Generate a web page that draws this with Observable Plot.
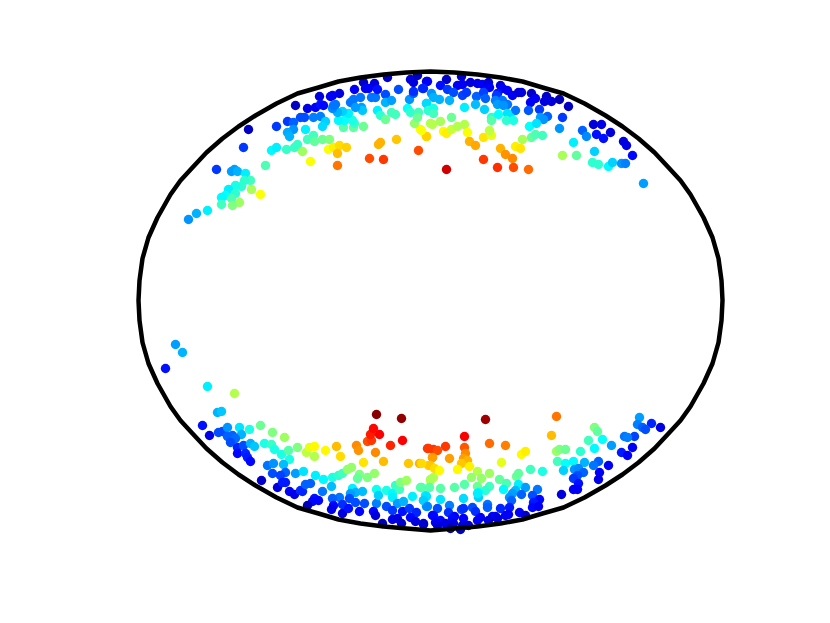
<!DOCTYPE html>
<html><head><meta charset="utf-8">
<script src="https://cdn.jsdelivr.net/npm/d3@7"></script>
<script src="https://cdn.jsdelivr.net/npm/@observablehq/plot@0.6"></script>
<style>html,body{margin:0;padding:0;background:#fff;overflow:hidden}svg{display:block}</style>
</head><body><div id="chart"></div>
<script>
const outlineX=[138,139,142,148,157,170,180,192,206,222,238,255,276,297,318,338,360,383,406,430,454,477,500,522,542,563,584,605,622,638,654,668,680,690,703,712,718,721,722,721,718,712,703,690,680,668,654,638,622,605,584,563,542,522,500,477,454,430,406,383,360,338,318,297,276,255,238,222,206,192,180,170,157,148,142,139,138];
const outlineY=[300,280,258,237,217,194,180,167,152,138,126,115,103,93,87,81,77,74,72,71,72,74,77,81,87,93,103,115,126,138,152,167,180,194,217,237,258,280,300,320,342,363,383,406,420,433,448,462,474,485,497,507,513,519,523,526,528,530,528,526,523,519,513,507,497,485,474,462,448,433,420,406,383,363,342,320,300];
const jetStops=[0,0.11,0.125,0.375,0.625,0.875,1];
const jetColors=["#00007f","#0000e6","#0000ff","#00ffff","#ffff00","#ff0000","#7f0000"];
const northWest=[[248,129,.07],[243,147,.18],[216,169,.18],[231,171,.28],[234,169,.28],[237,171,.3],[245,173,.36],[250,180,.44],[244,180,.42],[241,186,.42],[235,185,.4],[228,189,.36],[251,189,.54],[260,194,.62],[235,193,.42],[225,195,.38],[221,197,.37],[231,198,.45],[221,204,.44],[239,202,.53],[232,205,.5],[207,210,.36],[196,213,.3],[188,219,.27],[265,165,.45],[271,150,.37],[276,147,.36],[286,149,.43],[294,147,.43],[297,144,.43],[302,151,.53],[310,161,.62],[307,139,.44],[313,135,.44],[314,141,.47],[322,139,.48],[329,139,.5],[328,149,.62],[333,147,.64],[339,145,.66],[346,147,.67],[337,153,.69],[337,165,.76],[369,158,.8],[383,159,.82],[378,144,.7],[380,142,.7],[396,139,.68],[418,150,.8],[426,136,.66],[420,129,.62],[414,123,.52],[430,123,.55],[363,126,.48],[353,127,.47],[343,127,.46],[354,123,.43],[352,120,.4],[344,120,.38],[338,120,.37],[348,113,.36],[342,111,.33],[337,112,.3],[332,108,.26],[335,104,.24],[353,99,.24],[360,97,.24],[350,102,.24],[361,107,.28],[362,110,.32],[355,107,.28],[371,97,.24],[375,97,.24],[385,94,.2],[398,89,.2],[385,102,.3],[391,100,.28],[377,110,.36],[380,115,.42],[385,119,.48],[391,112,.44],[395,114,.44],[407,108,.38],[410,112,.42],[418,112,.44],[417,117,.48],[409,99,.27],[413,93,.22],[413,91,.17],[422,88,.18],[426,103,.33],[428,110,.4],[354,89,.12],[363,82,.07],[374,83,.1],[365,88,.12],[368,88,.12],[377,89,.14],[387,77,.08],[410,79,.1],[413,82,.1],[417,75,.07],[426,81,.1],[339,93,.1],[332,95,.12],[330,96,.12],[319,96,.1],[295,105,.07],[307,108,.11],[315,107,.12],[320,104,.14],[323,105,.13],[300,117,.2],[304,117,.2],[313,117,.25],[320,116,.25],[325,121,.33],[322,126,.34],[305,129,.36],[287,121,.18],[293,122,.22],[276,126,.18],[293,129,.27],[287,132,.29],[289,136,.3],[333,105,.24]];
const northEast=[[446,79,.08],[427,81,.12],[440,85,.14],[447,89,.18],[423,88,.16],[461,76,.08],[457,85,.12],[462,84,.12],[470,82,.1],[477,83,.11],[482,84,.12],[488,82,.1],[489,87,.12],[500,85,.1],[502,88,.12],[507,90,.12],[497,93,.15],[512,95,.12],[518,92,.1],[521,92,.1],[531,93,.08],[535,98,.12],[530,102,.12],[546,96,.08],[544,101,.1],[551,101,.1],[559,99,.06],[568,106,.07],[453,92,.2],[462,95,.19],[466,92,.18],[476,96,.22],[483,92,.19],[485,98,.22],[496,95,.18],[495,100,.25],[502,100,.24],[507,104,.24],[431,93,.27],[433,97,.3],[439,99,.3],[449,100,.3],[426,103,.34],[475,104,.31],[464,107,.36],[484,109,.33],[497,104,.28],[503,105,.27],[515,110,.24],[528,110,.21],[539,109,.18],[491,117,.42],[498,114,.38],[507,113,.35],[510,117,.35],[506,120,.42],[513,120,.4],[491,120,.46],[428,110,.42],[433,108,.4],[433,113,.44],[451,117,.48],[432,124,.55],[440,121,.54],[540,117,.28],[547,116,.22],[543,119,.27],[562,117,.18],[529,126,.38],[536,123,.35],[559,128,.27],[593,124,.1],[601,124,.11],[582,130,.22],[586,136,.26],[596,134,.14],[610,132,.1],[603,138,.14],[623,141,.1],[626,145,.11],[632,155,.13],[573,142,.36],[594,151,.33],[562,155,.54],[576,155,.47],[592,162,.42],[598,164,.42],[608,166,.37],[612,162,.33],[621,163,.27],[625,163,.25],[643,183,.28],[443,131,.63],[446,133,.64],[451,129,.57],[457,126,.55],[464,124,.55],[467,132,.62],[469,141,.7],[475,145,.71],[483,137,.65],[491,135,.6],[489,130,.56],[426,136,.67],[421,130,.62],[522,139,.54],[531,137,.47],[535,134,.45],[542,135,.44],[515,146,.64],[520,148,.65],[500,148,.7],[505,154,.73],[512,158,.74],[483,159,.82],[497,167,.83],[513,167,.8],[528,169,.77],[446,169,.92]];
const southWest=[[175,344,.28],[182,352,.3],[165,368,.14],[207,386,.36],[234,393,.55],[217,412,.3],[221,411,.32],[202,425,.14],[209,435,.11],[218,432,.2],[222,431,.2],[227,427,.27],[239,427,.35],[249,429,.4],[241,434,.3],[227,436,.22],[232,435,.22],[235,438,.23],[230,442,.2],[237,447,.16],[243,445,.2],[237,453,.13],[245,453,.16],[247,457,.15],[250,461,.13],[250,443,.3],[254,446,.32],[260,425,.48],[264,443,.4],[272,432,.5],[284,437,.53],[271,444,.43],[274,449,.4],[281,454,.4],[288,450,.46],[297,447,.5],[289,459,.4],[306,452,.56],[309,447,.6],[314,446,.63],[314,456,.55],[325,450,.63],[336,446,.69],[340,456,.66],[356,445,.74],[358,450,.73],[363,462,.65],[375,452,.74],[383,461,.69],[367,441,.8],[371,440,.82],[370,434,.85],[373,428,.87],[379,434,.88],[390,445,.84],[402,440,.88],[376,414,.99],[401,418,.98],[427,448,.82],[432,457,.74],[408,463,.68],[419,463,.7],[428,465,.67],[267,465,.24],[273,463,.27],[283,464,.31],[272,473,.2],[285,472,.22],[280,475,.19],[295,473,.28],[303,471,.35],[261,480,.08],[277,487,.1],[282,482,.15],[285,482,.15],[289,491,.12],[294,494,.11],[300,490,.17],[302,491,.16],[305,484,.22],[310,483,.22],[322,491,.24],[315,475,.36],[323,479,.37],[332,477,.4],[338,475,.42],[342,473,.44],[347,469,.52],[351,467,.52],[359,474,.5],[357,478,.47],[367,477,.5],[374,473,.52],[331,486,.31],[352,488,.36],[376,489,.39],[362,491,.31],[355,492,.3],[350,493,.28],[339,497,.24],[332,498,.22],[349,498,.2],[355,502,.2],[364,503,.2],[342,504,.17],[333,505,.13],[314,498,.14],[312,501,.13],[307,505,.06],[318,500,.13],[331,509,.11],[342,513,.1],[348,508,.14],[359,511,.13],[376,503,.25],[373,511,.13],[375,515,.1],[378,495,.33],[386,490,.4],[392,493,.37],[395,485,.43],[399,489,.44],[400,482,.5],[406,480,.53],[392,497,.36],[397,503,.28],[403,501,.3],[412,496,.36],[386,506,.2],[392,510,.18],[402,511,.14],[409,508,.18],[416,512,.16],[382,523,.06],[392,519,.11],[397,518,.1],[401,523,.08],[410,517,.13],[415,521,.1],[423,523,.09],[420,487,.46],[425,495,.36],[423,500,.33],[426,506,.27],[430,480,.55],[432,515,.13]];
const southEast=[[485,419,.97],[556,416,.76],[464,436,.88],[489,443,.77],[505,445,.75],[551,435,.69],[445,446,.82],[428,448,.82],[433,449,.82],[437,450,.8],[464,447,.79],[465,453,.74],[432,457,.72],[449,458,.72],[463,458,.72],[467,460,.7],[461,463,.68],[469,466,.64],[457,469,.63],[430,465,.68],[434,468,.66],[439,470,.63],[421,463,.66],[521,454,.63],[525,451,.64],[501,462,.6],[433,477,.55],[430,479,.54],[477,471,.55],[489,473,.53],[471,477,.52],[481,478,.52],[499,479,.47],[506,483,.45],[516,476,.48],[518,473,.47],[530,469,.44],[542,471,.4],[454,487,.46],[464,484,.46],[440,488,.46],[429,487,.46],[421,487,.46],[477,486,.48],[489,486,.44],[485,490,.42],[478,492,.38],[503,489,.37],[518,484,.36],[515,490,.31],[525,487,.28],[537,489,.24],[426,496,.35],[423,500,.33],[440,499,.35],[463,498,.34],[478,497,.33],[477,493,.36],[512,493,.28],[509,497,.27],[521,494,.22],[511,500,.22],[532,495,.2],[539,499,.13],[533,502,.15],[532,507,.13],[538,506,.12],[427,506,.26],[437,508,.2],[449,505,.25],[487,504,.24],[487,507,.22],[472,507,.2],[475,511,.17],[461,509,.19],[463,508,.17],[448,512,.17],[433,515,.13],[500,508,.16],[509,507,.15],[508,514,.12],[505,515,.12],[519,512,.12],[525,515,.08],[495,516,.11],[492,516,.12],[480,517,.12],[477,520,.12],[463,518,.12],[454,516,.12],[452,518,.13],[440,520,.13],[435,522,.12],[423,524,.08],[437,525,.1],[445,523,.11],[453,523,.1],[462,525,.1],[468,525,.09],[488,520,.1],[497,518,.1],[450,528,.07],[460,529,.07],[639,417,.28],[651,423,.16],[660,427,.11],[637,424,.25],[642,427,.22],[645,429,.2],[634,436,.19],[624,436,.24],[627,437,.25],[594,427,.5],[597,431,.47],[588,440,.44],[602,439,.38],[611,445,.28],[594,448,.37],[632,447,.12],[621,452,.15],[627,455,.12],[556,451,.53],[559,449,.5],[565,449,.48],[580,451,.42],[557,461,.44],[565,463,.38],[573,461,.37],[584,462,.3],[598,461,.22],[593,465,.24],[608,465,.12],[563,470,.33],[574,469,.27],[578,468,.26],[583,472,.22],[577,475,.2],[573,478,.18],[578,483,.14],[599,472,.12],[598,479,.11],[573,489,.12],[577,489,.12],[561,494,.1]];
const points=[...northWest,...northEast,...southWest,...southEast];
const outline=outlineX.map((x,i)=>[x,outlineY[i]]);
const chart=Plot.plot({
  width:830,height:623,margin:0,
  style:{background:"#fff"},
  x:{domain:[0,830],range:[0,830],axis:null},
  y:{domain:[0,623],range:[0,623],axis:null},
  color:{type:"linear",domain:jetStops,range:jetColors,interpolate:"rgb"},
  marks:[
    Plot.dot(points,{x:d=>d[0],y:d=>d[1],fill:d=>d[2],r:4.7,stroke:"none"}),
    Plot.line(outline,{x:d=>d[0],y:d=>d[1],stroke:"#000",strokeWidth:4.5,strokeLinejoin:"round"})
  ]
});
document.getElementById("chart").append(chart);
</script></body></html>
